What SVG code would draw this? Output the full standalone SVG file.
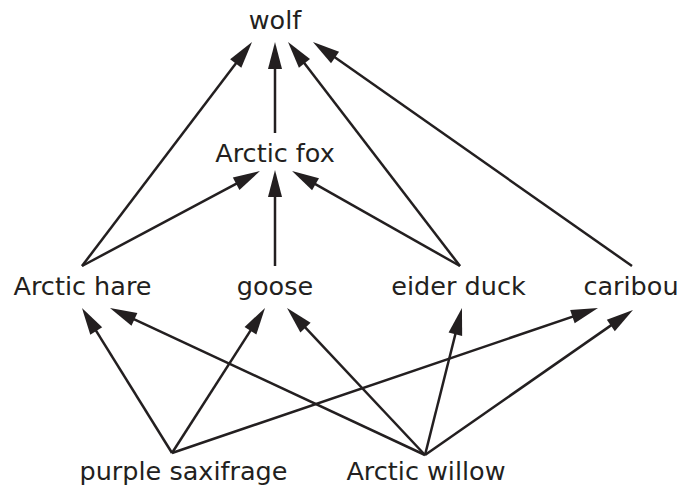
<svg xmlns="http://www.w3.org/2000/svg" width="682" height="492" viewBox="0 0 682 492">
<style>
text{font-family:"DejaVu Sans","Verdana",sans-serif;font-size:25.5px;fill:#231f20;text-anchor:middle}
.e{stroke:#231f20;stroke-width:2.5;fill:none;marker-end:url(#ah)}
</style>
<defs>
<marker id="ah" markerUnits="userSpaceOnUse" markerWidth="28" markerHeight="16" refX="19" refY="7" orient="auto" overflow="visible">
<path d="M0,0 L27,7 L0,14 z" fill="#231f20"/>
</marker>
</defs>
<rect width="682" height="492" fill="#fff"/>
<g id="connectors">
<line class="e" x1="82" y1="266" x2="247.2" y2="48.4"/>
<line class="e" x1="275" y1="133" x2="275" y2="50"/>
<line class="e" x1="460" y1="266" x2="292.9" y2="48.3"/>
<line class="e" x1="632" y1="266" x2="319.5" y2="46.6"/>
<line class="e" x1="82" y1="266" x2="252.9" y2="174.8"/>
<line class="e" x1="275" y1="266" x2="275" y2="178"/>
<line class="e" x1="460" y1="266" x2="299" y2="174.9"/>
<line class="e" x1="172" y1="453" x2="86.2" y2="314.8"/>
<line class="e" x1="172" y1="453" x2="260.7" y2="314.7"/>
<line class="e" x1="172" y1="453" x2="590.4" y2="310.6"/>
<line class="e" x1="425" y1="455" x2="117.2" y2="311.4"/>
<line class="e" x1="425" y1="455" x2="292.5" y2="313.8"/>
<line class="e" x1="425" y1="455" x2="460" y2="315.8"/>
<line class="e" x1="425" y1="455" x2="626.4" y2="314.6"/>
</g>
<g id="wolf"><text x="275" y="29">wolf</text></g>
<g id="arctic-fox"><text x="275" y="162">Arctic fox</text></g>
<g id="arctic-hare"><text x="82.5" y="295">Arctic hare</text></g>
<g id="goose"><text x="275" y="295">goose</text></g>
<g id="eider-duck"><text x="458.5" y="295">eider duck</text></g>
<g id="caribou"><text x="631" y="295">caribou</text></g>
<g id="purple-saxifrage"><text x="183.5" y="480">purple saxifrage</text></g>
<g id="arctic-willow"><text x="426" y="480">Arctic willow</text></g>
</svg>
